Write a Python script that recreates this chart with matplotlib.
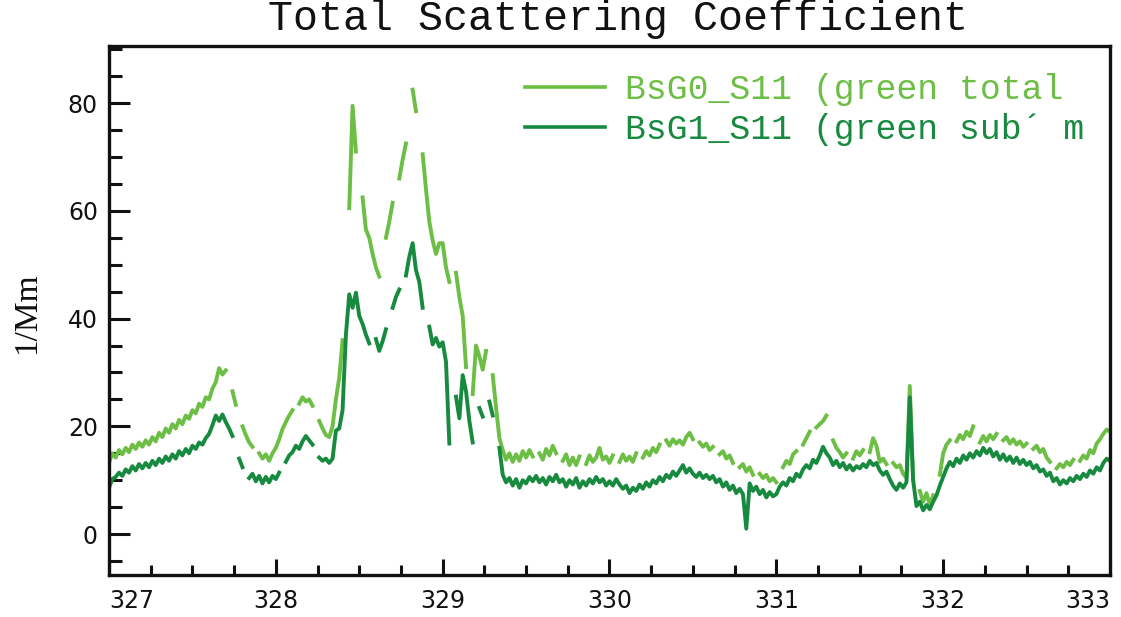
import numpy as np
import matplotlib
matplotlib.use("Agg")
import matplotlib.pyplot as plt
from matplotlib.ticker import MultipleLocator

nan = np.nan

# day of year, one sample every 0.02 day from 327.00 to 333.00
day_start = 327.0
day_step = 0.02

# BsG0_S11, green total scattering (1/Mm), rows of 25 samples (half a day)
bsg0 = [
    13.2, 15.0, 14.2, 15.6, 14.8, 16.0, 15.2, 16.6, 15.8, 17.0, 16.2, 17.4, 16.6, 18.0, 17.2, 18.8, 18.0, 19.6, 18.8, 20.4, 19.6, 21.2, 20.4, 22.0, 21.4,  # 327.0
    23.0, 22.4, 24.2, 23.6, 25.4, 25.0, 27.0, 28.2, 30.8, 29.6, 30.4, nan, 26.5, 24.0, nan, 20.0, 18.4, 17.0, 16.2, nan, 15.0, 14.0, 14.8, 13.6, 15.0,  # 327.5
    16.0, 17.6, 19.5, 20.8, 22.0, 23.0, nan, 24.2, 25.4, 24.6, 25.0, 23.8, nan, 21.0, 19.6, 18.4, 18.0, 20.0, 25.0, 29.0, 36.0, nan, 60.5, 79.5, 71.0,  # 328.0
    nan, 62.5, 56.5, 55.0, 52.0, 49.5, 47.8, nan, 55.0, 58.0, 61.5, nan, 66.0, 69.5, 72.5, nan, 82.5, 78.5, nan, 70.5, 64.0, 58.0, 54.5, 52.0, 54.0,  # 328.5
    54.0, 49.5, 46.8, nan, 48.5, 44.0, 40.5, 31.0, nan, 26.0, 35.0, 33.0, 30.5, 34.0, nan, 29.5, 23.5, 17.8, 15.6, 13.8, 15.0, 13.4, 14.8, 13.6, 15.4,  # 329.0
    14.2, 15.6, 14.4, nan, 15.0, 13.8, 15.8, 14.6, 16.4, 15.0, nan, 13.6, 14.8, 12.8, 14.2, 12.8, 14.4, nan, 13.0, 14.6, 13.4, 14.2, 16.0, 13.8, 14.4,  # 329.5
    13.2, 14.6, nan, 13.4, 14.8, 13.6, 14.4, 13.4, 15.0, nan, 14.2, 15.4, 14.6, 16.0, 15.2, 16.6, nan, 17.4, 16.4, 17.6, 16.8, 17.4, 16.6, 18.0, 18.8,  # 330.0
    17.6, nan, 17.0, 16.2, 16.8, 15.6, 16.2, nan, 14.8, 15.4, 14.0, 14.6, 13.2, nan, 12.4, 13.0, 11.6, 12.4, 11.0, nan, 11.2, 10.4, 11.0, 9.8, 10.4,  # 330.5
    9.6, nan, 12.4, 13.6, 13.0, 14.8, 15.4, nan, 16.6, 17.8, 19.0, nan, 19.8, 20.4, 21.0, 22.0, nan, 17.4, 16.0, 15.2, 14.2, 15.0, nan, 14.0, 15.4,  # 331.0
    14.6, 15.6, nan, 15.2, 17.8, 16.4, 13.4, 14.0, 13.0, nan, 13.2, 12.4, 12.8, 11.2, 10.4, 27.5, 10.0, nan, 8.0, 6.0, 7.6, 5.4, 7.2, nan, 11.0,  # 331.5
    15.0, 16.6, 17.4, nan, 17.2, 18.4, 17.6, 19.0, 18.2, 20.0, nan, 17.0, 18.2, 17.2, 18.4, 17.6, 18.6, nan, 17.4, 18.0, 16.8, 17.6, 16.6, 17.2, 16.2,  # 332.0
    16.8, nan, 15.8, 16.4, 15.2, 15.8, 14.2, 13.4, nan, 12.2, 13.0, 12.4, 13.4, 12.8, 13.8, nan, 13.6, 14.6, 14.0, 15.6, 15.0, 16.8, 17.6, 18.6, 19.4,  # 332.5
    19.0,
]

# BsG1_S11, green sub-micron scattering (1/Mm)
bsg1 = [
    8.6, 10.2, 10.6, 11.4, 10.8, 12.0, 11.4, 12.6, 11.8, 13.0, 12.2, 13.2, 12.4, 13.6, 12.8, 14.0, 13.2, 14.4, 13.6, 14.8, 14.0, 15.4, 14.6, 15.8, 15.0,  # 327.0
    16.4, 15.8, 17.0, 16.6, 17.8, 18.6, 20.2, 22.0, 21.0, 22.2, 20.8, 19.6, 18.2, nan, 14.0, 12.4, nan, 10.4, 11.2, 9.8, 10.8, 9.4, 10.6, 9.6, 10.8,  # 327.5
    10.2, 11.4, nan, 13.4, 14.6, 15.2, 16.4, 15.8, 17.2, 18.2, 17.4, 16.6, nan, 14.2, 13.6, 14.0, 13.2, 14.0, 19.2, 19.6, 23.0, 37.0, 44.5, 42.0, 44.8,  # 328.0
    40.5, 39.0, 37.0, 35.4, nan, 36.2, 34.0, 35.8, 38.0, nan, 42.0, 44.0, 45.4, nan, 48.0, 51.5, 54.0, 49.0, 46.8, 42.0, nan, 38.5, 35.2, 36.4, 34.8,  # 328.5
    35.6, 32.0, 16.8, nan, 25.5, 21.5, 29.5, 26.5, 21.0, 17.0, nan, 23.4, 21.8, nan, 24.6, 22.0, nan, 16.0, 11.0, 9.6, 10.4, 9.0, 10.2, 8.6, 10.0,  # 329.0
    9.4, 10.6, 9.8, 10.8, 9.6, 10.4, 9.2, 10.6, 9.8, 11.0, 9.6, 10.2, 8.8, 10.0, 9.2, 10.4, 8.6, 9.8, 9.0, 10.2, 9.4, 10.6, 9.6, 10.2, 9.0,  # 329.5
    9.8, 9.0, 10.2, 9.2, 8.4, 9.0, 7.6, 8.6, 8.0, 9.2, 8.4, 9.6, 8.8, 10.0, 9.4, 10.6, 9.8, 11.0, 10.4, 11.6, 10.8, 11.8, 12.8, 11.4, 12.2,  # 330.0
    11.2, 10.6, 11.4, 10.4, 11.0, 10.2, 10.8, 9.6, 10.2, 8.8, 9.6, 8.2, 9.0, 7.6, 8.4, 7.4, 1.0, 9.4, 8.0, 8.8, 7.4, 8.2, 6.8, 7.8, 7.0,  # 330.5
    7.4, 8.8, 9.6, 9.0, 10.4, 9.8, 11.2, 10.6, 12.0, 12.8, 12.2, 13.8, 13.2, 14.6, 16.2, 15.0, 14.2, 12.8, 13.6, 12.4, 13.2, 12.0, 12.8, 11.8, 12.6,  # 331.0
    12.2, 13.0, 12.4, 13.6, 12.8, 13.2, 11.8, 11.0, 11.6, 10.2, 9.0, 8.2, 9.4, 8.6, 9.6, 25.4, 10.0, 5.2, 6.0, 4.4, 5.4, 4.6, 6.0, 7.2, 9.0,  # 331.5
    10.6, 12.2, 13.4, 12.6, 14.0, 13.2, 14.6, 13.8, 15.0, 14.2, 15.4, 14.6, 16.0, 15.0, 15.8, 14.4, 15.2, 13.8, 14.8, 13.6, 14.4, 13.2, 14.2, 13.0, 13.8,  # 332.0
    12.8, 13.4, 12.2, 12.8, 11.6, 12.0, 10.8, 11.4, 9.8, 10.4, 9.2, 10.0, 9.4, 10.4, 9.8, 10.8, 10.2, 11.2, 10.6, 11.8, 11.2, 12.4, 11.8, 13.2, 14.0,  # 332.5
    13.6,
]

# legend text as far as the reference shows it
labels = ["BsG0_S11 (green total", "BsG1_S11 (green sub\u00b4 m"]
colors = ["#6cbe45", "#178a3f"]
x_ticks = [327, 328, 329, 330, 331, 332, 333]
y_ticks = [0, 20, 40, 60, 80]

days = day_start + day_step * np.arange(len(bsg0))

fig = plt.figure(figsize=(11.21, 6.17), dpi=100)
ax = fig.add_axes([109 / 1121, 42 / 617, 1001 / 1121, 529 / 617])

lines = []
for series, color, label in zip([bsg0, bsg1], colors, labels):
    (ln,) = ax.plot(days, series, color=color, lw=2.8, label=label)
    lines.append(ln)

ax.set_xlim(327, 333)
ax.set_ylim(-7.6, 90.6)

ax.set_xticks(x_ticks)
ax.set_xticklabels([str(t) for t in x_ticks])
ax.set_yticks(y_ticks)
ax.xaxis.set_minor_locator(MultipleLocator(0.25))
ax.yaxis.set_minor_locator(MultipleLocator(5))

ax.tick_params(axis="both", which="both", direction="in", top=False, right=False,
               width=2.2, colors="#111111", labelsize=17)
ax.tick_params(axis="y", which="major", length=15, pad=8)
ax.tick_params(axis="y", which="minor", length=9.5)
ax.tick_params(axis="x", which="major", length=11.5, pad=10)
ax.tick_params(axis="x", which="minor", length=7.2)

# first and last x labels sit inside the frame
xl = ax.get_xticklabels()
xl[0].set_ha("left")
xl[-1].set_ha("right")

for sp in ax.spines.values():
    sp.set_linewidth(2.4)
    sp.set_color("#111111")

leg = ax.legend(handles=lines, loc="upper left", bbox_to_anchor=(0.4156, 0.949),
                frameon=False, borderpad=0, borderaxespad=0,
                handlelength=2.3, handletextpad=0.58, labelspacing=0.2,
                prop={"family": "Liberation Mono", "size": 25})
for t, c in zip(leg.get_texts(), colors):
    t.set_color(c)
for h in leg.get_lines():
    h.set_linewidth(2.6)

fig.text(618 / 1121, 1 - 30 / 617, "Total Scattering Coefficient", ha="center",
         va="baseline", family="Liberation Mono", fontsize=30, color="#111111")
fig.text(27 / 1121, 1 - 313 / 617, "1/Mm", rotation=90, ha="center", va="center",
         family="Liberation Serif", fontsize=24, color="#111111")

fig.savefig("out.png", dpi=100)
